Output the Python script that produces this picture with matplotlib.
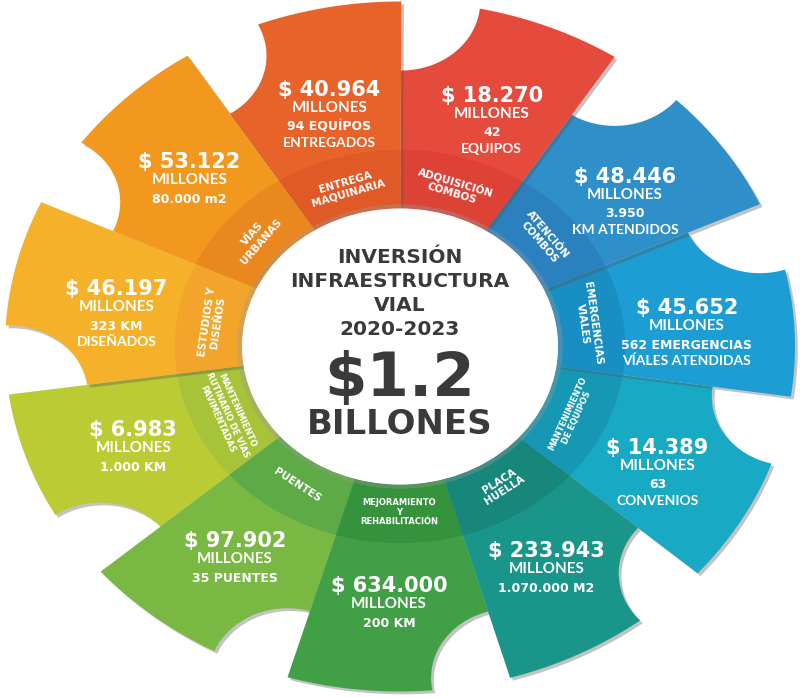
import numpy as np
import matplotlib
matplotlib.use("Agg")
import matplotlib.pyplot as plt
from matplotlib.patches import Polygon, Circle
import matplotlib.patheffects as pe

# segments, clockwise starting left of the circle
categories = ["ESTUDIOS Y\nDISEÑOS", "VÍAS\nURBANAS", "ENTREGA\nMAQUINARIA",
              "ADQUISICIÓN\nCOMBOS", "ATENCIÓN\nCOMBOS", "EMERGENCIAS\nVIALES",
              "MANTENIMIENTO\nDE EQUIPOS", "PLACA\nHUELLA",
              "MEJORAMIENTO\nY\nREHABILITACIÓN", "PUENTES",
              "MANTENIMIENTO\nRUTINARIO DE VÍAS\nPAVIMENTADAS"]
millones = [46197, 53122, 40964, 18270, 48446, 45652, 14389, 233943, 634000, 97902, 6983]
detail_1 = ["323 KM", "80.000 m2", "94 EQUÍPOS", "42", "3.950", "562 EMERGENCIAS",
            "63", "1.070.000 M2", "200 KM", "35 PUENTES", "1.000 KM"]
detail_2 = ["DISEÑADOS", "", "ENTREGADOS", "EQUIPOS", "KM ATENDIDOS",
            "VÍALES ATENDIDAS", "CONVENIOS", "", "", "", ""]

title_lines = ["INVERSIÓN", "INFRAESTRUCTURA", "VIAL", "2020-2023"]
total = "$1.2"
total_unit = "BILLONES"

colors = ["#F6B12B", "#F2981F", "#E8632A", "#E54B3C", "#2E8FC9", "#1C9DD3",
          "#18A9C4", "#1A9589", "#41A046", "#79B843", "#BACB33"]
band_colors = ["#F2A52A", "#EA8820", "#E05A27", "#DC4336", "#2A81BE", "#198EC3",
               "#1698B4", "#17877C", "#35923D", "#5EAA46", "#A6C33A"]

HEAVY = ["DejaVu Sans"]
LIGHT = ["Lato", "DejaVu Sans"]
NARROW = ["Liberation Sans Narrow", "DejaVu Sans"]
DARK = "#3A3A3A"


def unit(deg):
    t = np.radians(deg)
    return np.array([np.cos(t), np.sin(t)])


def segment(a, b, r0, r1, notch):
    pts = [r0 * unit(t) for t in np.linspace(a, b, 40)]
    pts.append((r1 - notch) * unit(b))
    c = r1 * unit(b)
    delta = np.degrees(2 * np.arcsin(notch / (2 * r1)))
    for p in np.linspace(b + 180, b + 270 - delta / 2, 30):
        pts.append(c + notch * unit(p))
    pts += [r1 * unit(t) for t in np.linspace(b - delta, a, 60)]
    return np.array(pts)


def band(a, b, r0, r1):
    pts = [r0 * unit(t) for t in np.linspace(a, b, 40)]
    pts += [r1 * unit(t) for t in np.linspace(b, a, 40)]
    return np.array(pts)


fig = plt.figure(figsize=(8, 6.98), dpi=100)
ax = fig.add_axes([0, 0, 1, 1])
ax.set_xlim(-400 / 395, 400 / 395)
ax.set_ylim(-351.5 / 345, 346.5 / 345)
ax.set_aspect("auto")
ax.axis("off")

n = len(categories)
step = 360 / n
start = 188
r_in, r_band, r_out, notch = 0.40, 0.57, 1.0, 0.2
px = 1 / 345
shadow = [pe.SimplePatchShadow(offset=(2, -2), shadow_rgbFace="#555555", alpha=0.35), pe.Normal()]

for i in reversed(range(n)):
    b = start - i * step
    a = b - step
    ax.add_patch(Polygon(segment(a, b, r_in, r_out, notch), closed=True,
                         facecolor=colors[i], edgecolor="none", path_effects=shadow))
    ax.add_patch(Polygon(band(a, b, r_in, r_band), closed=True,
                         facecolor=band_colors[i], edgecolor="none"))

for i in range(n):
    mid = start - i * step - step / 2

    # category label in the inner band
    rot = mid - 90
    if rot < -90:
        rot += 180
    elif rot > 90:
        rot -= 180
    lines = categories[i].split("\n")
    longest = max(len(s) for s in lines)
    lx, ly = 0.48 * unit(mid)
    if longest > 14:
        ax.text(lx, ly, categories[i], rotation=rot, rotation_mode="anchor",
                ha="center", va="center", ma="center", color="white",
                fontsize=6, fontweight="bold", family=NARROW, linespacing=1.3)
    else:
        size = 7.5 if longest <= 11 else 6
        ax.text(lx, ly, categories[i], rotation=rot, rotation_mode="anchor",
                ha="center", va="center", ma="center", color="white",
                fontsize=size, fontweight="bold", family=HEAVY, linespacing=1.1)

    # value block
    cx, cy = 0.73 * unit(mid - 2)
    cy -= 6 * px
    value = "$ " + f"{millones[i]:,}".replace(",", ".")
    ax.text(cx, cy + 18 * px, value, ha="center", va="center", color="white",
            fontsize=15, fontweight="bold", family=HEAVY)
    ax.text(cx, cy, "MILLONES", ha="center", va="center", color="white",
            fontsize=11, fontweight="bold", family=LIGHT)
    ax.text(cx, cy - 19 * px, detail_1[i], ha="center", va="center", color="white",
            fontsize=9, fontweight="bold", family=HEAVY)
    if detail_2[i]:
        ax.text(cx, cy - 35 * px, detail_2[i], ha="center", va="center", color="white",
                fontsize=10, fontweight="bold", family=LIGHT)

# centre disc
ax.add_patch(Circle((0, 0), r_in + 0.012, facecolor="#9A9A9A", edgecolor="none", alpha=0.35))
ax.add_patch(Circle((0, 0), r_in, facecolor="white", edgecolor="none"))

for k, line in enumerate(title_lines):
    ax.text(0, (346.5 - 258 - 24 * k) * px, line, ha="center", va="center",
            color=DARK, fontsize=14.5, fontweight="bold", family=HEAVY)
ax.text(0, (346.5 - 380) * px, total, ha="center", va="center",
        color=DARK, fontsize=44, fontweight="bold", family=HEAVY)
ax.text(0, (346.5 - 425) * px, total_unit, ha="center", va="center",
        color=DARK, fontsize=24.5, fontweight="bold", family=HEAVY)

fig.savefig("out.png", dpi=100)
